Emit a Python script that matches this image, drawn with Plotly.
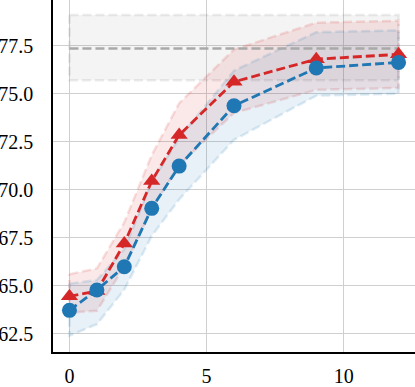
import plotly.graph_objects as go

steps = [0, 1, 2, 3, 4, 6, 9, 12]

red_mean = [64.45, 64.72, 67.2, 70.45, 72.85, 75.62, 76.8, 77.05]
red_upper = [65.6, 65.9, 68.3, 71.8, 74.5, 77.3, 78.7, 78.8]
red_lower = [63.6, 63.7, 66.0, 69.0, 71.3, 74.0, 75.2, 75.3]

blue_mean = [63.72, 64.78, 65.99, 69.03, 71.23, 74.37, 76.34, 76.63]
blue_upper = [65.1, 65.3, 66.9, 70.4, 72.7, 76.2, 78.2, 78.3]
blue_lower = [62.4, 63.0, 64.8, 67.6, 69.5, 72.6, 74.9, 75.0]

ref_x = [0, 12]
ref_mean = 77.35
ref_upper = 79.1
ref_lower = 75.7

y_ticks = [62.5, 65.0, 67.5, 70.0, 72.5, 75.0, 77.5]
x_ticks = [0, 5, 10]

RED = "#d62728"
BLUE = "#1f77b4"
DASH = "9px,4px"

fig = go.Figure()

# reference band
fig.add_trace(go.Scatter(
    x=[ref_x[0], ref_x[1], ref_x[1], ref_x[0], ref_x[0]],
    y=[ref_upper, ref_upper, ref_lower, ref_lower, ref_upper],
    fill="toself", fillcolor="rgba(150,150,150,0.10)",
    line=dict(color="rgba(150,150,150,0.18)", width=2.5, dash=DASH),
    mode="lines", hoverinfo="skip", showlegend=False))


def band(mean_up, mean_lo, fill, edge):
    fig.add_trace(go.Scatter(
        x=steps + steps[::-1] + [steps[0]],
        y=mean_up + mean_lo[::-1] + [mean_up[0]],
        fill="toself", fillcolor=fill,
        line=dict(color=edge, width=2.5, dash=DASH),
        mode="lines", hoverinfo="skip", showlegend=False))


band(red_upper, red_lower, "rgba(214,39,40,0.10)", "rgba(214,39,40,0.15)")
band(blue_upper, blue_lower, "rgba(31,119,180,0.10)", "rgba(31,119,180,0.15)")

fig.add_trace(go.Scatter(
    x=ref_x, y=[ref_mean, ref_mean], mode="lines",
    line=dict(color="#a9a9a9", width=2.5, dash=DASH), showlegend=False))

fig.add_trace(go.Scatter(
    x=steps, y=red_mean, mode="lines+markers",
    line=dict(color=RED, width=2.8, dash=DASH),
    marker=dict(symbol="triangle-up", size=15, color=RED),
    showlegend=False))

fig.add_trace(go.Scatter(
    x=steps, y=blue_mean, mode="lines+markers",
    line=dict(color=BLUE, width=2.8, dash=DASH),
    marker=dict(symbol="circle", size=15, color=BLUE),
    showlegend=False))

SERIF = "Liberation Serif"

fig.update_layout(
    width=415, height=387,
    margin=dict(l=53, r=0, t=0, b=35, autoexpand=False),
    plot_bgcolor="white", paper_bgcolor="white",
    font=dict(family=SERIF, size=20, color="black"),
)
fig.update_xaxes(
    range=[-0.6, 12.6], tickvals=x_ticks, ticktext=[str(v) for v in x_ticks],
    tickfont=dict(family=SERIF, size=20, color="black"),
    showgrid=True, gridcolor="#cfcfcf", gridwidth=1.4, zeroline=False,
    showline=True, linecolor="black", linewidth=1.6, ticks="",
    ticklabelstandoff=5, automargin=False)
fig.update_yaxes(
    range=[61.55, 79.88], tickvals=y_ticks, ticktext=[f"{v:.1f}" for v in y_ticks],
    tickfont=dict(family=SERIF, size=20, color="black"),
    showgrid=True, gridcolor="#cfcfcf", gridwidth=1.4, zeroline=False,
    showline=True, linecolor="black", linewidth=1.6, ticks="",
    ticklabelstandoff=14, automargin=False)

fig.write_html("out.html", post_script="document.body.style.margin='0';",
               config={"displayModeBar": False})
